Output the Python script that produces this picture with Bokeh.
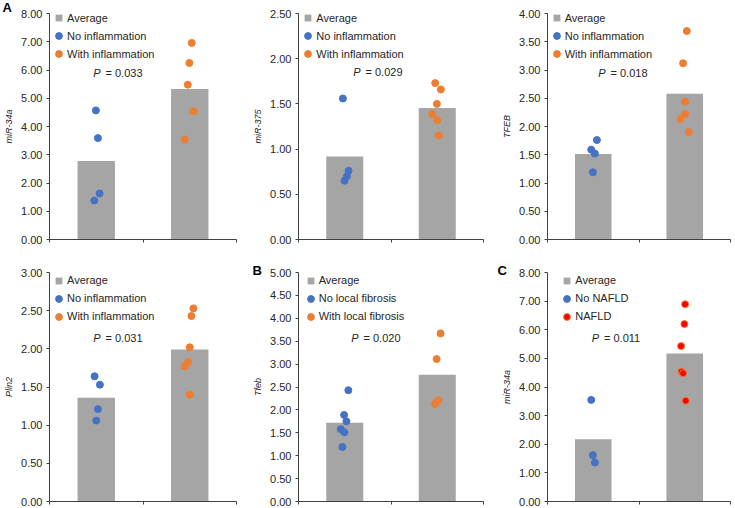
from bokeh.plotting import figure
from bokeh.models import (ColumnDataSource, Range1d, FixedTicker, SingleIntervalTicker,
                          NumeralTickFormatter, Legend, LegendItem, Label)
from bokeh.layouts import column, row
from bokeh.embed import file_html
from bokeh.resources import INLINE

# ---------------- data ----------------
GROUPS = ["No", "With"]                      # two categories per panel
panel_letters = ["A", "", "", "", "B", "C"]
y_labels = ["miR-34a", "miR-375", "TFEB", "Plin2", "Tfeb", "miR-34a"]
legend_no = ["No inflammation", "No inflammation", "No inflammation",
             "No inflammation", "No local fibrosis", "No NAFLD"]
legend_with = ["With inflammation", "With inflammation", "With inflammation",
               "With inflammation", "With local fibrosis", "NAFLD"]
p_values = ["0.033", "0.029", "0.018", "0.031", "0.020", "0.011"]
y_max = [8.0, 2.5, 4.0, 3.0, 5.0, 8.0]
y_step = [1.0, 0.5, 0.5, 0.5, 0.5, 1.0]

averages = [
    [2.78, 5.33],
    [0.917, 1.456],
    [1.512, 2.581],
    [1.358, 1.990],
    [1.720, 2.77],
    [2.178, 5.170],
]

mir34a_no = [4.57, 3.59, 1.63, 1.38]
mir34a_with = [6.96, 6.25, 5.48, 4.54, 3.54]
mir375_no = [1.56, 0.76, 0.70, 0.65]
mir375_with = [1.73, 1.66, 1.50, 1.39, 1.32, 1.15]
tfeb_no = [1.76, 1.59, 1.52, 1.19]
tfeb_with = [3.69, 3.12, 2.44, 2.22, 2.13, 1.90]
plin2_no = [1.64, 1.53, 1.21, 1.06]
plin2_with = [2.53, 2.43, 2.02, 1.83, 1.77, 1.40]
tfeb_fib_no = [2.43, 1.89, 1.75, 1.58, 1.51, 1.19]
tfeb_fib_with = [3.67, 3.11, 2.21, 2.13]
mir34a_nafld_no = [3.55, 1.62, 1.36]
mir34a_nafld_with = [6.89, 6.20, 5.43, 4.54, 4.48, 3.52]

values_no = [mir34a_no, mir375_no, tfeb_no, plin2_no, tfeb_fib_no, mir34a_nafld_no]
values_with = [mir34a_with, mir375_with, tfeb_with, plin2_with, tfeb_fib_with, mir34a_nafld_with]

# ---------------- layout / style (not data) ----------------
# horizontal scatter offsets of the dots, in category units
jitter_no = [
    [-0.004, 0.018, 0.036, -0.021],
    [-0.020, 0.041, 0.023, -0.002],
    [0.040, -0.022, 0.018, -0.004],
    [-0.018, 0.039, 0.018, 0.0],
    [0.039, -0.007, 0.018, -0.043, -0.004, -0.025],
    [-0.022, -0.004, 0.018],
]
jitter_with = [
    [0.021, -0.004, -0.021, 0.039, -0.054],
    [-0.022, 0.039, -0.004, -0.054, 0.0, 0.018],
    [0.022, -0.018, 0.004, 0.004, -0.047, 0.044],
    [0.039, 0.018, 0.0, -0.018, -0.054, 0.0],
    [0.036, -0.007, 0.014, -0.025],
    [0.004, -0.004, -0.040, -0.036, -0.018, 0.011],
]
legend_x = [1, 1.3, 0.7, 1, 3.7, 11.3]            # px from frame left
legend_dy = [2.7, 2.7, 2.7, 0.5, 0.5, 0.5]        # px vertical tweak
p_pos = [(51, 60.5), (62, 59.5), (58, 60), (51, 65), (60, 65), (51.5, 65)]

FONT = "Liberation Sans"
TEXT_COLOR = "#262626"
AXIS_COLOR = "#404040"
BAR_COLOR = "#A5A5A5"
BLUE = "#4472C4"
ORANGE = "#ED7D31"
RED = "#FF0000"

COL_W = [250, 245, 239]
COL_L = [49, 48, 52]
COL_R = [14, 12, 4]
ROW_H = [254, 253]
ROW_T = [12, 18]
ROW_B = [15, 6]
LETTER_STANDOFF = [-4, -12]
LETTER_OFFSET = [-47, -46, -50]

LEG_ROW = 17
LEG_SP = 1


def make_panel(i, col, rw):
    fh = ROW_H[rw] - ROW_T[rw] - ROW_B[rw]
    p = figure(width=COL_W[col], height=ROW_H[rw],
               x_range=Range1d(0.5, len(GROUPS) + 0.5), y_range=Range1d(0, y_max[i]),
               output_backend="svg", toolbar_location=None,
               min_border_left=COL_L[col], min_border_right=COL_R[col],
               min_border_top=ROW_T[rw], min_border_bottom=ROW_B[rw])
    p.outline_line_color = None
    p.xgrid.visible = False
    p.ygrid.visible = False
    p.background_fill_color = "white"
    p.border_fill_color = "white"

    centers = [k + 1 for k in range(len(GROUPS))]
    p.vbar(x=centers, top=averages[i], width=0.4, fill_color=BAR_COLOR, line_color=None)

    src_no = ColumnDataSource(dict(
        x=[centers[0] + d for d in jitter_no[i]], y=values_no[i]))
    src_with = ColumnDataSource(dict(
        x=[centers[1] + d for d in jitter_with[i]], y=values_with[i]))
    r_no = p.scatter("x", "y", source=src_no, size=7, fill_color=BLUE, line_color=BLUE)
    if i == 5:
        r_with = p.scatter("x", "y", source=src_with, size=7, fill_color=RED,
                           line_color=ORANGE, line_width=1)
    else:
        r_with = p.scatter("x", "y", source=src_with, size=7, fill_color=ORANGE,
                           line_color=ORANGE)
    # legend-only square for the "Average" bars (hidden in the plot itself)
    sq = p.scatter(x=centers, y=averages[i], marker="square", size=7,
                   fill_color=BAR_COLOR, line_color=None, visible=False)

    # y axis
    ya = p.yaxis[0]
    ya.ticker = SingleIntervalTicker(interval=y_step[i], num_minor_ticks=0)
    ya.formatter = NumeralTickFormatter(format="0.00")
    ya.axis_label = y_labels[i]
    ya.axis_label_text_font = FONT
    ya.axis_label_text_font_style = "italic"
    ya.axis_label_text_font_size = "9px"
    ya.axis_label_text_color = TEXT_COLOR
    ya.axis_label_standoff = 4
    ya.major_label_text_font = FONT
    ya.major_label_text_font_size = "11px"
    ya.major_label_text_color = TEXT_COLOR
    ya.major_label_standoff = 4
    ya.major_tick_out = 3
    ya.major_tick_in = 0
    ya.minor_tick_out = 0
    ya.minor_tick_in = 0
    ya.axis_line_color = AXIS_COLOR
    ya.major_tick_line_color = AXIS_COLOR

    # x axis: line and boundary ticks only, no labels drawn
    xa = p.xaxis[0]
    xa.ticker = FixedTicker(ticks=[k + 0.5 for k in range(len(GROUPS) + 1)])
    xa.major_label_text_font_size = "1px"
    xa.major_label_text_color = None
    xa.major_label_standoff = 0
    xa.major_tick_out = 3
    xa.major_tick_in = 0
    xa.minor_tick_out = 0
    xa.minor_tick_in = 0
    xa.axis_line_color = AXIS_COLOR
    xa.major_tick_line_color = AXIS_COLOR

    # legend
    items = [LegendItem(label="Average", renderers=[sq]),
             LegendItem(label=legend_no[i], renderers=[r_no]),
             LegendItem(label=legend_with[i], renderers=[r_with])]
    leg_h = 3 * LEG_ROW + 2 * LEG_SP
    legend = Legend(items=items, location=(legend_x[i], fh - leg_h + legend_dy[i]),
                    glyph_width=LEG_ROW, glyph_height=LEG_ROW, label_height=LEG_ROW,
                    spacing=LEG_SP, padding=0, margin=0, label_standoff=0,
                    border_line_color=None, background_fill_alpha=0,
                    label_text_font=FONT, label_text_font_size="11px",
                    label_text_color=TEXT_COLOR)
    p.add_layout(legend)

    # P value text
    px, py = p_pos[i]
    p.add_layout(Label(x=px, y=fh - py, x_units="screen", y_units="screen", text="P",
                       text_font=FONT, text_font_style="italic", text_font_size="11px",
                       text_color=TEXT_COLOR, text_align="right", text_baseline="middle"))
    p.add_layout(Label(x=px + 5, y=fh - py, x_units="screen", y_units="screen",
                       text="= " + p_values[i], text_font=FONT, text_font_size="11px",
                       text_color=TEXT_COLOR, text_align="left", text_baseline="middle"))

    # panel letter as the figure title (lives in the top border, left of the axis)
    if panel_letters[i]:
        t = p.title
        t.text = panel_letters[i]
        t.align = "left"
        t.vertical_align = "middle"
        t.offset = LETTER_OFFSET[col]
        t.standoff = LETTER_STANDOFF[rw]
        t.text_font = FONT
        t.text_font_style = "bold"
        t.text_font_size = "13px"
        t.text_color = "#000000"
    return p


figs = [make_panel(i, i % 3, i // 3) for i in range(6)]
layout = column(row(*figs[:3]), row(*figs[3:]))

open("out.html", "w").write(file_html(layout, INLINE))
